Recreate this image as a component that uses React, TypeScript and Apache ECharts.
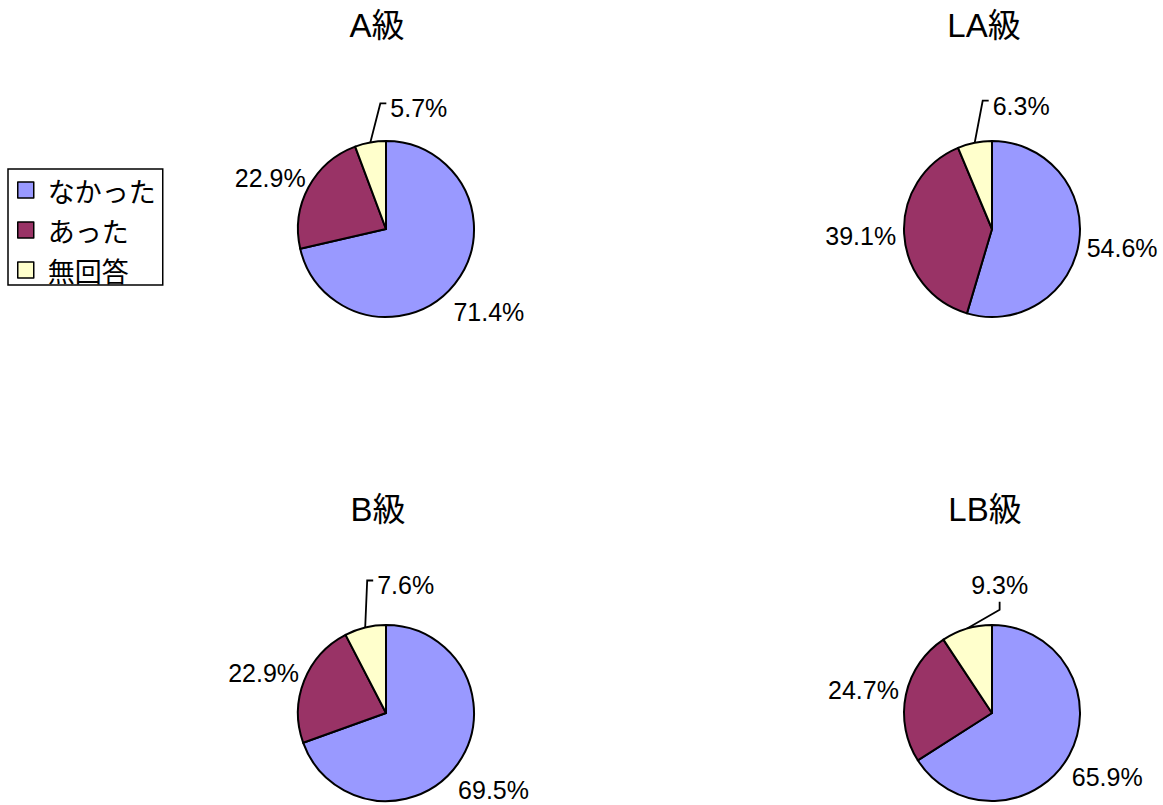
import React, { useEffect, useRef } from "react";
import * as echarts from "echarts";

// ---- data ----
const categories = ["なかった", "あった", "無回答"];
const groupTitles = ["A級", "LA級", "B級", "LB級"];
const valuesA = [71.4, 22.9, 5.7];
const valuesLA = [54.6, 39.1, 6.3];
const valuesB = [69.5, 22.9, 7.6];
const valuesLB = [65.9, 24.7, 9.3];

// ---- styling / layout ----
const colors = ["#9999FF", "#993366", "#FFFFCC"];
const seriesValues = [valuesA, valuesLA, valuesB, valuesLB];
const centers = [
  [386, 229],
  [992, 229],
  [386, 713],
  [992, 713],
];
const titleCenters = [
  [377, 9],
  [984, 9],
  [378, 493],
  [985, 493],
];
const R = 88;
// leader line style for the small slice: [kind, dx, dy]
const leaders: [string, number, number][] = [
  ["elbow", 10, -39],
  ["elbow", 8, -42],
  ["elbow", 2, -47],
  ["diag", 33, -19],
];
const LATIN = "'Liberation Sans', Arial, 'Noto Sans CJK JP', sans-serif";
const CJK = "'Noto Sans CJK JP', 'Liberation Sans', sans-serif";

function midAngle(vals: number[], idx: number) {
  const total = vals.reduce((a, b) => a + b, 0);
  let start = 0;
  for (let i = 0; i < idx; i++) start += vals[i];
  return ((start + vals[idx] / 2) / total) * Math.PI * 2;
}

export default function App() {
  const ref = useRef<HTMLDivElement>(null);
  useEffect(() => {
    if (!ref.current) return;
    const chart = echarts.init(ref.current, null, { renderer: "svg" });

    const labelLayout = (params: any) => {
      const s = params.seriesIndex;
      const i = params.dataIndex;
      const vals = seriesValues[s];
      const [cx, cy] = centers[s];
      const a = midAngle(vals, i);
      const ux = Math.sin(a);
      const uy = -Math.cos(a);
      const w = params.labelRect.width;
      const h = params.labelRect.height;
      if (i < 2) {
        const D = R + 8;
        const x = cx + ux * D + (ux * w) / 2;
        const y = cy + uy * D + (uy * h) / 2 + 25 * Math.max(uy, 0);
        return { x, y, align: "center", verticalAlign: "middle" };
      }
      const ex = cx + ux * R;
      const ey = cy + uy * R;
      const [kind, dx, dy] = leaders[s];
      if (kind === "elbow") {
        const p1 = [ex + dx, ey + dy];
        const p2 = [p1[0] + 6, p1[1]];
        return {
          x: p2[0] + 4,
          y: p2[1] + 5,
          align: "left",
          verticalAlign: "middle",
          labelLinePoints: [[ex, ey], p1, p2],
        };
      }
      const p1 = [ex + dx, ey + dy];
      const p2 = [p1[0], p1[1] - 8];
      return {
        x: p2[0],
        y: p2[1] - 17,
        align: "center",
        verticalAlign: "middle",
        labelLinePoints: [[ex, ey], p1, p2],
      };
    };

    const option: any = {
      animation: false,
      backgroundColor: "#ffffff",
      title: groupTitles.map((t, k) => ({
        text: t,
        left: titleCenters[k][0],
        top: titleCenters[k][1],
        textAlign: "center",
        padding: 0,
        textStyle: {
          fontFamily: LATIN,
          fontSize: 33,
          fontWeight: "normal",
          color: "#000",
        },
      })),
      legend: {
        orient: "vertical",
        left: 8,
        top: 169,
        data: categories,
        icon: "rect",
        itemWidth: 16,
        itemHeight: 16,
        itemGap: 12,
        padding: [7, 7, 1, 9],
        borderColor: "#000",
        borderWidth: 1.5,
        selectedMode: false,
        itemStyle: { borderColor: "#000", borderWidth: 1.5 },
        textStyle: {
          fontFamily: CJK,
          fontSize: 27,
          lineHeight: 28,
          color: "#000",
          padding: [0, 0, 0, 9],
        },
      },
      series: seriesValues.map((vals, s) => ({
        type: "pie",
        center: centers[s],
        radius: R,
        startAngle: 90,
        clockwise: true,
        avoidLabelOverlap: false,
        silent: true,
        emphasis: { disabled: true },
        itemStyle: { borderColor: "#000", borderWidth: 2 },
        label: {
          show: true,
          position: "outside",
          formatter: (p: any) => `${Number(p.value).toFixed(1)}%`,
          fontFamily: LATIN,
          fontSize: 25,
          lineHeight: 25,
          color: "#000",
        },
        labelLine: {
          show: false,
          smooth: false,
          lineStyle: { color: "#000", width: 1.8 },
        },
        labelLayout,
        data: categories.map((name, i) => ({
          name,
          value: vals[i],
          itemStyle: { color: colors[i] },
          labelLine: { show: i === 2, lineStyle: { color: "#000", width: 1.8 } },
        })),
      })),
    };
    chart.setOption(option);
    return () => chart.dispose();
  }, []);
  return (
    <div
      ref={ref}
      style={{ position: "absolute", left: 0, top: 0, width: 1163, height: 805 }}
    />
  );
}
